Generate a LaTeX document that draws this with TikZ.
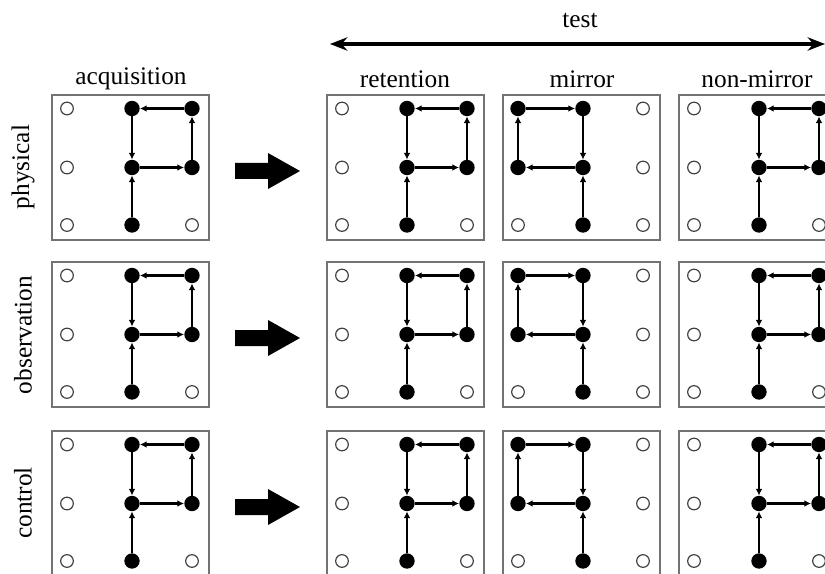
\documentclass[tikz,border=0pt]{standalone}
\usepackage{fontspec}
\setmainfont{Liberation Serif}
\usetikzlibrary{arrows.meta}

\tikzset{
  frame/.style={draw=black!55, line width=1.3pt},
  hole/.style={circle, draw=black!75, line width=0.9pt, fill=white, inner sep=0pt, minimum size=9.5pt},
  peg/.style={circle, fill=black, inner sep=0pt, minimum size=11.5pt},
  move/.style={line width=1.8pt, -{Latex[length=5pt,width=5pt]}},
  heading/.style={font=\fontsize{19}{22}\selectfont, inner sep=0pt},
  declare function={ox(\i)=(\i==1)*15+(\i==2)*80+(\i==3)*140; oy(\j)=(\j==1)*13.5+(\j==2)*72.5+(\j==3)*130;}
}

% name, x, y, open holes, pegs, moves
\newcommand{\gridpanel}[6]{%
  \draw[frame] (#2,#3) rectangle ++(157,145);
  \foreach \i/\j in {#4} \node[hole] (#1-\i\j) at ({#2+ox(\i)},{#3+oy(\j)}) {};
  \foreach \i/\j in {#5} \node[peg] (#1-\i\j) at ({#2+ox(\i)},{#3+oy(\j)}) {};
  \foreach \a/\b in {#6} \draw[move] (#1-\a) -- (#1-\b);
}

\begin{document}
\begin{tikzpicture}[x=0.75pt,y=0.75pt,yscale=-1,xscale=1]
			\clip (0,0) rectangle (825,574);
			
			% panels
			\foreach \r/\ry in {1/95,2/262,3/431} {
				\gridpanel{a\r}{52}{\ry}{1/1,1/2,1/3,3/3}{2/1,3/1,2/2,3/2,2/3}{23/22,22/32,32/31,31/21,21/22}
				\gridpanel{r\r}{327}{\ry}{1/1,1/2,1/3,3/3}{2/1,3/1,2/2,3/2,2/3}{23/22,22/32,32/31,31/21,21/22}
				\gridpanel{m\r}{503}{\ry}{3/1,3/2,1/3,3/3}{1/1,2/1,1/2,2/2,2/3}{23/22,22/12,12/11,11/21,21/22}
				\gridpanel{n\r}{679}{\ry}{1/1,1/2,1/3,3/3}{2/1,3/1,2/2,3/2,2/3}{23/22,22/32,32/31,31/21,21/22}
				% block arrow
				\fill (235,\ry+68) -- (268,\ry+68) -- (268,\ry+58) -- (300,\ry+76) -- (268,\ry+94) -- (268,\ry+84) -- (235,\ry+84) -- cycle;
			}
			
			% test span
			\coordinate (test-l) at (330,44);
			\coordinate (test-r) at (825,44);
			\draw[line width=2.8pt, {Stealth[length=13pt,width=10pt]}-{Stealth[length=13pt,width=10pt]}] (test-l) -- (test-r);
			\node[heading, anchor=base] (test) at (580,28) {test};
			
			% column headings
			\node[heading, anchor=base] (acq) at (131,85) {acquisition};
			\node[heading, anchor=base] (ret) at (405,88) {retention};
			\node[heading, anchor=base] (mir) at (582,88) {mirror};
			\node[heading, anchor=base] (nmir) at (757,88) {non-mirror};
			
			% row headings
			\node[heading, rotate=90] (phys) at (23,167) {physical};
			\node[heading, rotate=90] (obs) at (23,335) {observation};
			\node[heading, rotate=90] (ctrl) at (23,503) {control};
			\end{tikzpicture}
\end{document}
